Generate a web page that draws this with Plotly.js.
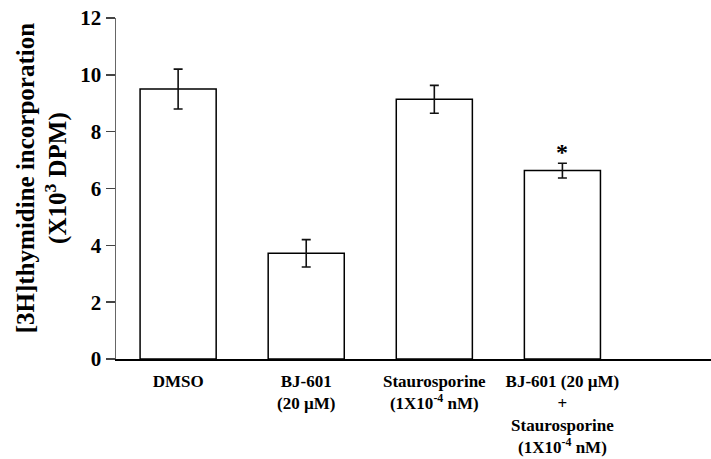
<!DOCTYPE html>
<html>
<head>
<meta charset="utf-8">
<script src="https://cdn.plot.ly/plotly-3.0.1.min.js"></script>
<style>html,body{margin:0;padding:0;background:#fff;}#chart{width:711px;height:459px;}</style>
</head>
<body>
<div id="chart"></div>
<script>
const categories = [
  "DMSO",
  "BJ-601<br>(20 \u00b5M)",
  "Staurosporine<br>(1X10<sup>-4</sup> nM)",
  "BJ-601 (20 \u00b5M)<br>+<br>Staurosporine<br>(1X10<sup>-4</sup> nM)"
];
const values = [9.50, 3.72, 9.14, 6.63];
const errors = [0.70, 0.48, 0.49, 0.26];
const yTicks = [0, 2, 4, 6, 8, 10, 12];
const sigMarks = ["", "", "", "*"];

const fontFam = "'Liberation Serif', 'Times New Roman', serif";

const trace = {
  type: 'bar',
  x: categories,
  y: values,
  width: 0.594,
  marker: {color: '#ffffff', line: {color: '#000000', width: 1.5}},
  error_y: {type: 'data', array: errors, visible: true, color: '#111111', thickness: 1.6, width: 4.5},
  cliponaxis: false,
  hoverinfo: 'none'
};

const annotations = [];
sigMarks.forEach((m, i) => {
  if (m) annotations.push({
    x: categories[i], y: values[i] + errors[i], xref: 'x', yref: 'y',
    text: '<b>' + m + '</b>', showarrow: false, yanchor: 'bottom', yshift: -4,
    font: {family: fontFam, size: 24, color: '#000'}
  });
});
annotations.push({
  xref: 'paper', yref: 'paper', x: (42 - 116) / 595, y: 0.53,
  xanchor: 'center', yanchor: 'middle', textangle: -90, showarrow: false,
  text: '<b>[3H]thymidine incorporation<br>(X10<sup>3</sup> DPM)</b>',
  font: {family: fontFam, size: 25, color: '#000'}
});

const layout = {
  width: 711, height: 459,
  margin: {l: 116, r: 0, t: 18, b: 100, pad: 0},
  paper_bgcolor: '#ffffff', plot_bgcolor: '#ffffff',
  showlegend: false,
  font: {family: fontFam, color: '#000'},
  xaxis: {
    range: [-0.485, 4.16], showline: true, linecolor: '#000', linewidth: 1.5,
    ticks: '', showgrid: false, zeroline: false, tickangle: 0, ticklabelstandoff: 6,
    tickfont: {family: fontFam, size: 17, color: '#000', weight: 'bold'}
  },
  yaxis: {
    range: [0, 12], tickvals: yTicks, ticktext: yTicks.map(String),
    showline: true, linecolor: '#666', linewidth: 1.5,
    ticks: 'outside', ticklen: 9, tickwidth: 1.5, tickcolor: '#444',
    showgrid: false, zeroline: false,
    tickfont: {family: fontFam, size: 21, color: '#000', weight: 'bold'}
  },
  annotations: annotations
};

Plotly.newPlot('chart', [trace], layout, {staticPlot: true, displayModeBar: false});
</script>
</body>
</html>
